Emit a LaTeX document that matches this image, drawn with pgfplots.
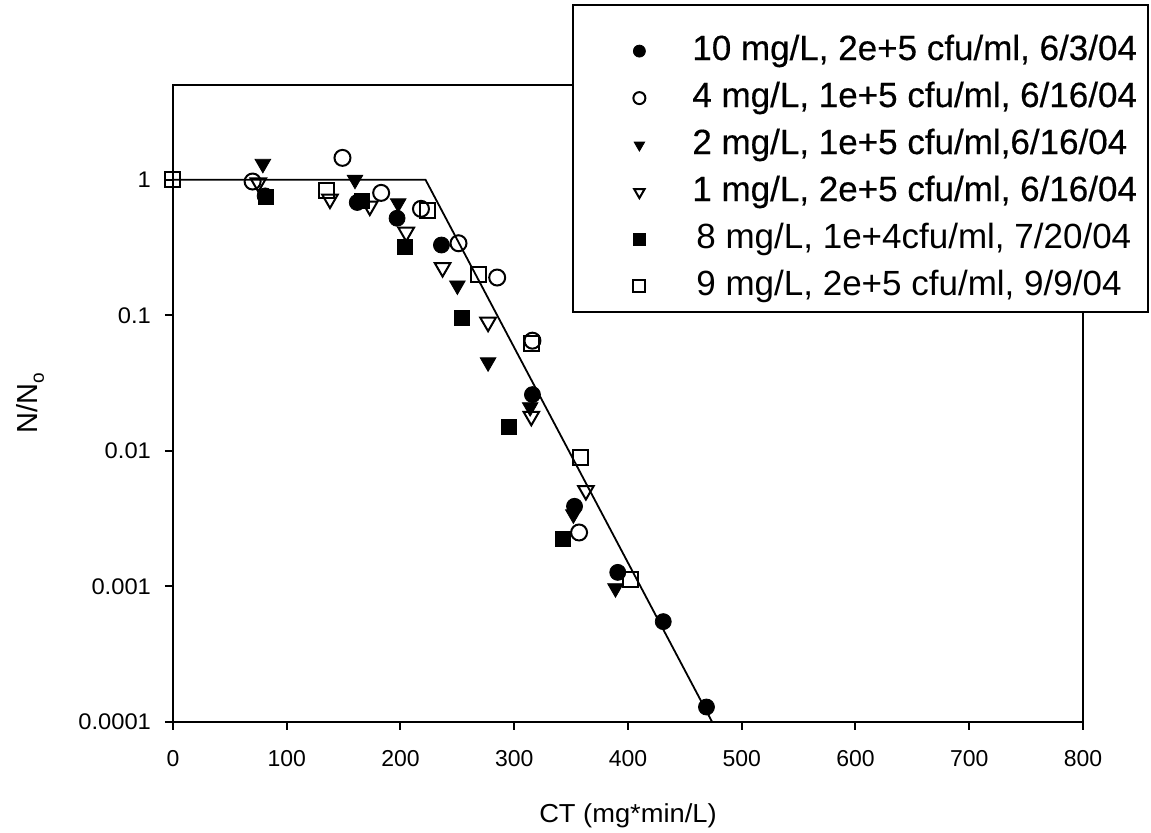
\documentclass[border=0pt]{standalone}
\usepackage{fontspec}
\setmainfont{Liberation Sans}
\newfontfamily\widef[FakeStretch=1.05]{Liberation Sans}
\newfontfamily\fb[FakeBold=0.4]{Liberation Sans}
\usepackage{pgfplots}
\pgfplotsset{compat=1.18}
\begin{document}
\begin{tikzpicture}
\begin{axis}[
  name=ax,
  scale only axis,
  width=455pt, height=318.5pt,
  xmin=0, xmax=800,
  ymode=log, ymin=1e-4, ymax=5,
  xtick={0,100,...,800},
  xticklabels={0,100,200,300,400,500,600,700,800},
  ytick={1e-4,1e-3,0.01,0.1,1},
  yticklabels={0.0001,0.001,0.01,0.1,1},
  yminorticks=false,
  xtick pos=bottom, ytick pos=left,
  tick align=outside,
  major tick length=4pt,
  axis line style={line width=1pt},
  every tick/.style={black, line width=1pt},
  xticklabel style={font=\fontsize{11.5}{13}\selectfont, yshift=-6.5pt},
  yticklabel style={font=\widef\fontsize{11.3}{13}\selectfont, xshift=-3.5pt},
  xlabel={CT (mg*min/L)},
  ylabel={N/N\raisebox{-0.45ex}{\fontsize{9.5}{10}\selectfont o}},
  every axis x label/.style={at={(axis description cs:0.5,-0.1476)}, anchor=center, font=\widef\fontsize{13}{15}\selectfont},
  every axis y label/.style={at={(axis description cs:-0.157,0.5)}, anchor=center, rotate=90, font=\fontsize{14.5}{16}\selectfont},
  clip=false,
  legend style={draw=none, fill=none, at={(rel axis cs:0.5055,1.0794)}, anchor=north west,
    inner xsep=0pt, inner ysep=0pt, row sep=7.2pt, column sep=23.5pt,
    font=\fontsize{17.5}{21}\selectfont,
    nodes={inner sep=0pt, text height=12.6pt, text depth=3.7pt}},
  legend cell align=left,
  legend image post style={mark size=3pt},
]
\addplot[black, line width=0.9pt, forget plot] coordinates {(0,1) (222,1) (474,0.0001)};
\addplot[only marks, mark=*, mark size=4pt, black] coordinates {
(81,0.76) (162,0.68) (197,0.52) (236,0.33) (316,0.026) (353,0.0039) (391,0.00127) (431,0.00055) (469,0.000129)};
\addlegendentry{{\fb 10 mg/L, 2e+5 cfu/ml, 6/3/04}}
\addplot[only marks, mark=o, mark size=4pt, black, mark options={line width=1pt}] coordinates {
(70,0.97) (149,1.45) (183,0.8) (218,0.61) (251,0.34) (285,0.19) (316,0.065) (357,0.0025)};
\addlegendentry{{\fb 4 mg/L, 1e+5 cfu/ml, 6/16/04}}
\addplot[only marks, mark=triangle*, mark size=4.5pt, black, mark options={rotate=180}] coordinates {
(79,1.31) (160,1.0) (198,0.67) (250,0.166) (277,0.045) (314,0.021) (352,0.0034) (389,0.00097)};
\addlegendentry{{\fb 2 mg/L, 1e+5 cfu/ml,6/16/04}}
\addplot[only marks, mark=triangle, mark size=4.5pt, black, mark options={rotate=180, line width=1pt}] coordinates {
(75,0.95) (138,0.72) (173,0.64) (205,0.41) (237,0.225) (277,0.089) (315,0.018) (363,0.0051)};
\addlegendentry{{\fb 1 mg/L, 2e+5 cfu/ml, 6/16/04}}
\addplot[only marks, mark=square*, mark size=3.75pt, black] coordinates {
(82,0.75) (166,0.70) (204,0.32) (254,0.096) (295,0.0149) (343,0.00226)};
\addlegendentry{\hspace{2pt}8 mg/L, 1e+4cfu/ml, 7/20/04}
\addplot[only marks, mark=square, mark size=3.75pt, black, mark options={line width=1pt}] coordinates {
(0,1) (135,0.83) (224,0.59) (269,0.2) (315,0.062) (358,0.0090) (402,0.00112)};
\addlegendentry{\hspace{2pt}9 mg/L, 2e+5 cfu/ml, 9/9/04}
\draw[line width=1pt, fill=white] (rel axis cs:0.4396,0.6436) rectangle (rel axis cs:1.0714,1.1256);
\end{axis}
\pgfresetboundingbox
\path[use as bounding box] ([shift={(-86.5pt,-55.5pt)}]ax.south west) rectangle ([shift={(489pt,361pt)}]ax.south west);
\end{tikzpicture}
\end{document}
